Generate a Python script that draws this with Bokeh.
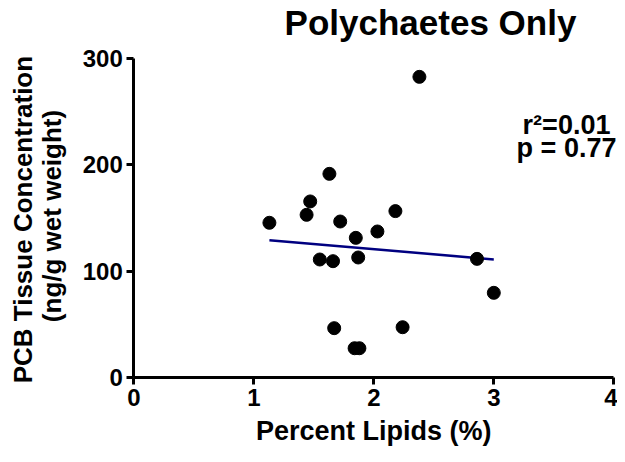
from math import pi
from bokeh.plotting import figure
from bokeh.models import Range1d, Label, FixedTicker, LinearAxis
from bokeh.embed import file_html
from bokeh.resources import INLINE

lipids = [1.13, 1.44, 1.47, 1.63, 1.55, 1.66, 1.72, 1.67, 1.85, 1.87, 1.84, 1.88, 2.03, 2.18, 2.24, 2.38, 2.86, 3.0]
pcb = [145.5, 153, 165.6, 191.6, 110.9, 109.3, 146.7, 46.2, 131.3, 112.8, 27.3, 27.3, 137.3, 156.5, 47.1, 283, 111.5, 79.5]
fit_x = [1.13, 3.0]
fit_y = [129, 111]
x_ticks = [0, 1, 2, 3, 4]
y_ticks = [0, 100, 200, 300]

FONT = "Liberation Sans"

W, H = 617, 454
X0_PX, X_SCALE = 133.3, 120.0      # pixel of x=0, pixels per unit
Y0_PX, Y_SCALE = 376.7, 1.0613     # pixel of y=0, pixels per unit

p = figure(width=W, height=H, output_backend="svg", toolbar_location=None,
           x_range=Range1d(-X0_PX / X_SCALE, (W - X0_PX) / X_SCALE),
           y_range=Range1d((Y0_PX - H) / Y_SCALE, Y0_PX / Y_SCALE),
           x_axis_location=None, y_axis_location=None,
           min_border_left=0, min_border_right=0, min_border_top=0, min_border_bottom=0)
p.outline_line_color = None
p.background_fill_color = "white"
p.border_fill_color = "white"

xaxis = LinearAxis(ticker=FixedTicker(ticks=x_ticks), fixed_location=0, bounds=(0, 4))
yaxis = LinearAxis(ticker=FixedTicker(ticks=y_ticks), fixed_location=0, bounds=(0, 300))
p.add_layout(xaxis, "below")
p.add_layout(yaxis, "left")
p.grid.grid_line_color = None

for ax in (xaxis, yaxis):
    ax.axis_line_width = 3
    ax.axis_line_color = "black"
    ax.major_tick_line_width = 3
    ax.major_tick_line_color = "black"
    ax.major_tick_out = 7
    ax.major_tick_in = 0
    ax.minor_tick_line_color = None
    ax.major_label_text_font = FONT
    ax.major_label_text_font_style = "bold"
    ax.major_label_text_font_size = "24px"
    ax.major_label_text_color = "black"
xaxis.major_label_standoff = 5
yaxis.major_label_standoff = 4

p.line(fit_x, fit_y, line_color="#000080", line_width=2.5)
p.scatter(lipids, pcb, size=13, fill_color="black", line_color="black")

def txt(x, y, text, size, align="center", angle=0.0):
    p.add_layout(Label(x=x, y=y, text=text, angle=angle, text_font=FONT, text_font_style="bold",
                       text_font_size=size, text_align=align, text_baseline="alphabetic",
                       text_color="black"))

# title
txt((430 - X0_PX) / X_SCALE, (Y0_PX - 22) / Y_SCALE, "Polychaetes Only", "35px")
# x axis label
txt((373.3 - X0_PX) / X_SCALE, (Y0_PX - 430) / Y_SCALE, "Percent Lipids (%)", "27px")
# y axis labels
txt((22 - X0_PX) / X_SCALE, (Y0_PX - 215.5) / Y_SCALE, "PCB  Tissue Concentration", "26px", angle=pi / 2)
txt((51 - X0_PX) / X_SCALE, (Y0_PX - 215.5) / Y_SCALE, "(ng/g wet weight)", "26px", angle=pi / 2)
# statistics
txt(3.606, 238.0, "r²=0.01", "27px")
txt(3.606, 215.6, "p = 0.77", "27px")

open("out.html", "w").write(file_html(p, INLINE))
